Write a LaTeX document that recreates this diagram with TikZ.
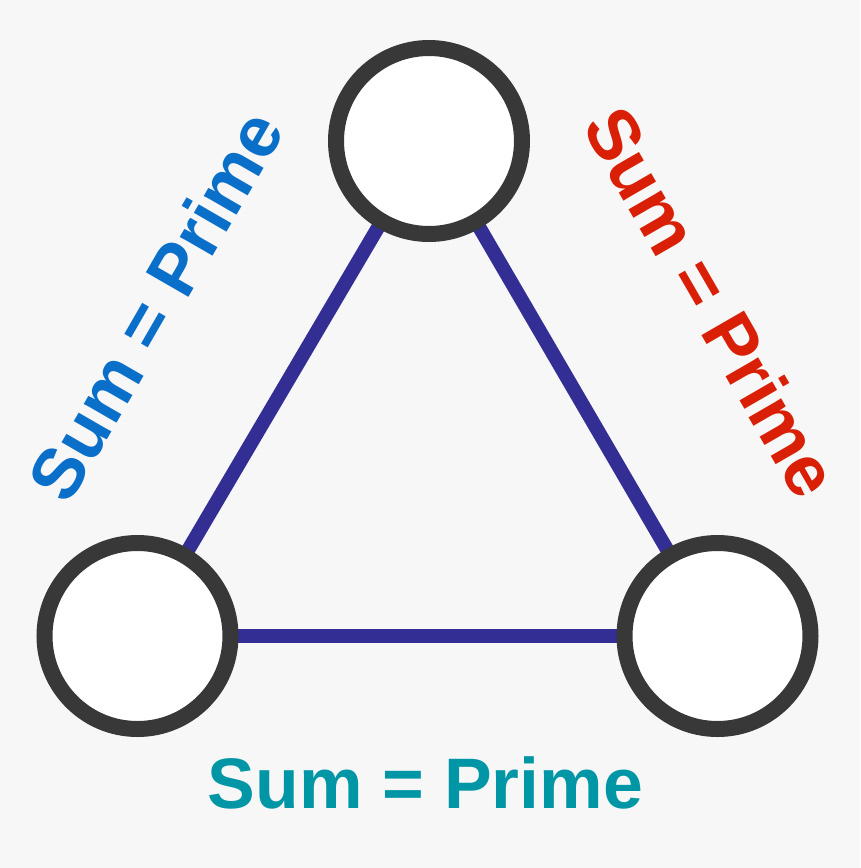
\documentclass[tikz,border=0pt]{standalone}
\usepackage{fontspec}
\setmainfont{Liberation Sans}
\definecolor{bgc}{HTML}{F7F7F7}
\definecolor{ringc}{HTML}{383838}
\definecolor{edgec}{HTML}{332E94}
\definecolor{bluec}{HTML}{0A6FC8}
\definecolor{redc}{HTML}{D91F05}
\definecolor{tealc}{HTML}{0096A6}
\begin{document}
\begin{tikzpicture}[x=1pt,y=-1pt,
  vertex/.style={circle,draw=ringc,fill=white,line width=16pt,minimum size=186pt,inner sep=0pt},
  edge/.style={draw=edgec,line width=14pt},
  lbl/.style={inner sep=0pt,font=\fontsize{71.5}{80}\selectfont\bfseries}]
\fill[bgc] (0,0) rectangle (860,868);
\useasboundingbox (0,0) rectangle (860,868);
\coordinate (ct) at (429,141);
\coordinate (cl) at (137.5,636);
\coordinate (cr) at (717.5,636);
\draw[edge] (ct) -- (cl);
\draw[edge] (ct) -- (cr);
\draw[edge] (cl) -- (cr);
\node[vertex] (top) at (ct) {};
\node[vertex] (left) at (cl) {};
\node[vertex] (right) at (cr) {};
\node[lbl,text=bluec,rotate=60] (lblL) at (155,305.5) {Sum = Prime};
\node[lbl,text=redc,rotate=-60] (lblR) at (712,302) {Sum = Prime};
\node[lbl,text=tealc] (lblB) at (425.5,782.5) {Sum = Prime};
\end{tikzpicture}
\end{document}
